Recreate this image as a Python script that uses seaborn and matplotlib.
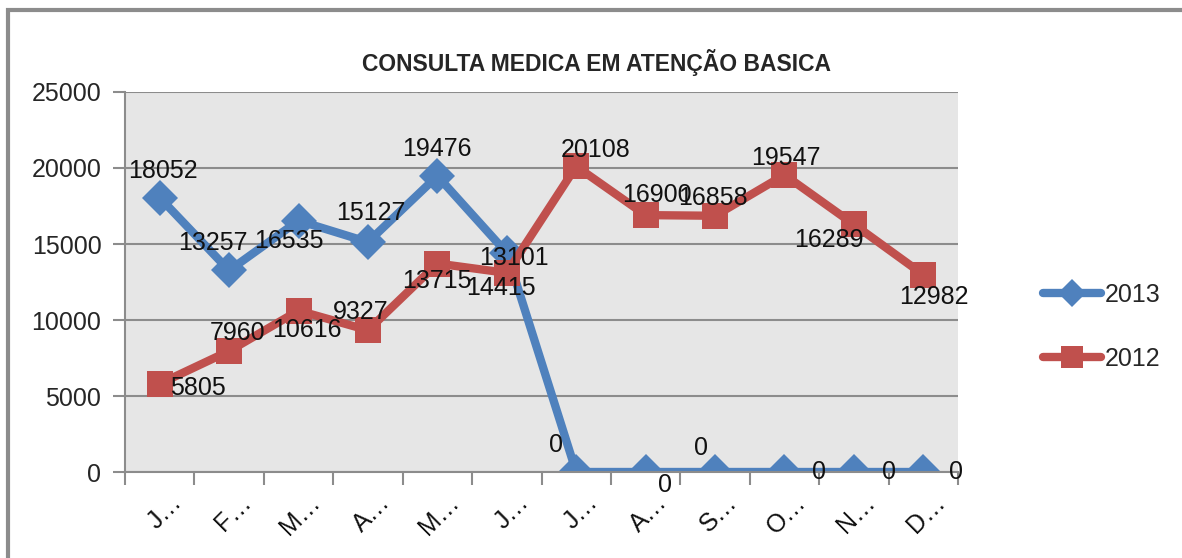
import pandas as pd
import seaborn as sns
import matplotlib.pyplot as plt
from matplotlib.patches import Rectangle

# dados
meses = ['J…', 'F…', 'M…', 'A…', 'M…', 'J…', 'J…', 'A…', 'S…', 'O…', 'N…', 'D…']
anos = ['2013', '2012']
valores_2013 = [18052, 13257, 16535, 15127, 19476, 14415, 0, 0, 0, 0, 0, 0]
valores_2012 = [5805, 7960, 10616, 9327, 13715, 13101, 20108, 16900, 16858, 19547, 16289, 12982]

# deslocamento dos rotulos (pixels)
desloc_2013 = [(3, 27), (-16, 27), (-10, -20), (3, 29), (0, 27), (-6, -35),
               (-20, 27), (19, -13), (-14, 24), (35, 0), (35, 0), (33, 0)]
desloc_2012 = [(38, -4), (8, 18), (8, -19), (-7, 18), (0, -17), (7, 15),
               (19, 16), (11, 20), (-2, 18), (1, 17), (-25, -16), (11, -22)]

cores = {'2013': '#4F81BD', '2012': '#C0504D'}
fonte = ['Liberation Sans', 'DejaVu Sans']

df = pd.DataFrame({
    'pos': list(range(len(meses))) * 2,
    'valor': valores_2013 + valores_2012,
    'ano': ['2013'] * len(meses) + ['2012'] * len(meses),
})

sns.set_style('white')
plt.rcParams['font.family'] = fonte

fig = plt.figure(figsize=(11.82, 5.58), dpi=100)
ax = fig.add_axes([125 / 1182, 86 / 558, 833 / 1182, 380 / 558])
ax.set_facecolor('#E6E6E6')

sns.lineplot(data=df, x='pos', y='valor', hue='ano', style='ano', hue_order=anos,
             palette=cores, markers={'2013': 'D', '2012': 's'}, dashes=False,
             linewidth=6, markersize=18, markeredgewidth=0, ax=ax)
for line in ax.lines:
    if line.get_marker() == 's':
        line.set_markersize(19)

for serie, desl in [(valores_2013, desloc_2013), (valores_2012, desloc_2012)]:
    for i, v in enumerate(serie):
        ax.annotate(str(v), (i, v), xytext=desl[i], textcoords='offset pixels',
                    ha='center', va='center', fontsize=18, color='#111111')

ax.set_xlim(-0.5, len(meses) - 0.5)
ax.set_ylim(0, 25000)
ax.set_yticks(range(0, 25001, 5000))
ax.set_xticks(range(len(meses)))
ax.set_xticklabels([])
ax.set_xticks([i - 0.5 for i in range(len(meses) + 1)], minor=True)
# rotulos dos meses, girados como no Excel
for i, mes in enumerate(meses):
    ax.annotate(mes, (i, 0), xycoords=('data', 'axes fraction'), xytext=(18, -27),
                textcoords='offset pixels', rotation=45, rotation_mode='anchor',
                ha='right', va='center', fontsize=18, color='#111111')
ax.tick_params(axis='x', which='major', length=0)
ax.tick_params(axis='x', which='minor', length=9, color='#8c8c8c', width=1.5, direction='out', bottom=True)
ax.tick_params(axis='y', length=9, color='#8c8c8c', width=1.5, direction='out', left=True, labelsize=18, pad=8)
ax.yaxis.grid(True, color='#8c8c8c', linewidth=1.5)
ax.set_axisbelow(True)
for s in ['top', 'right']:
    ax.spines[s].set_visible(False)
for s in ['left', 'bottom']:
    ax.spines[s].set_color('#8c8c8c')
    ax.spines[s].set_linewidth(1.5)
ax.set_xlabel('')
ax.set_ylabel('')

fig.text(596 / 1182, 1 - 62 / 558, 'CONSULTA MEDICA EM ATENÇÃO BASICA', ha='center', va='center',
         fontsize=16.5, fontweight='bold', family=fonte)

ax.legend(loc='center left', bbox_to_anchor=(1043 / 1182, 1 - 327 / 558),
          bbox_transform=fig.transFigure, frameon=False, fontsize=18,
          handlelength=2.3, handletextpad=0.15, labelspacing=1.6, markerscale=0.8,
          borderpad=0, borderaxespad=0)

fig.patches.append(Rectangle((8 / 1182, -0.1), 1.2, 0.1 + 1 - 10 / 558, transform=fig.transFigure,
                             fill=False, edgecolor='#8c8c8c', linewidth=3, clip_on=False))

plt.savefig('out.png', dpi=100)
